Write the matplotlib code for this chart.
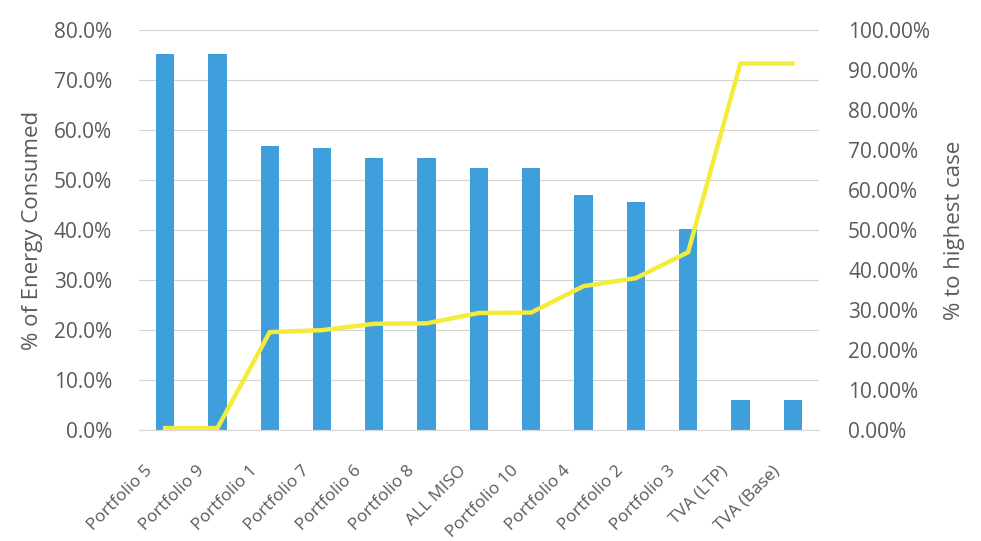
import numpy as np
import matplotlib.pyplot as plt
from matplotlib.ticker import FuncFormatter
from matplotlib.transforms import ScaledTranslation

plt.rcParams['font.family'] = ['Open Sans', 'DejaVu Sans']

cases = ['Portfolio 5', 'Portfolio 9', 'Portfolio 1', 'Portfolio 7', 'Portfolio 6',
         'Portfolio 8', 'ALL MISO', 'Portfolio 10', 'Portfolio 4', 'Portfolio 2',
         'Portfolio 3', 'TVA (LTP)', 'TVA (Base)']
energy_consumed = [75.2, 75.2, 56.8, 56.4, 54.5, 54.5, 52.4, 52.4, 47.0, 45.7, 40.2, 6.0, 6.0]
pct_to_highest = [0.5, 0.5, 24.5, 25.0, 26.6, 26.7, 29.3, 29.4, 36.0, 38.0, 44.5, 91.7, 91.7]

text_color = '#5a5a5a'
bar_color = '#3f9fdc'
line_color = '#f4ec3c'

fig = plt.figure(figsize=(9.81, 5.41), dpi=100)
ax = fig.add_axes([0.1417, 0.205, 0.693, 0.739])
ax2 = ax.twinx()

x = np.arange(len(cases))
ax.bar(x, energy_consumed, width=0.35, color=bar_color, zorder=2)
ax2.plot(x, pct_to_highest, color=line_color, lw=3.2, solid_joinstyle='round', zorder=3)

ax.set_xlim(-0.5, len(cases) - 0.5)
ax.set_ylim(0, 80)
ax.set_yticks(np.arange(0, 81, 10))
ax.yaxis.set_major_formatter(FuncFormatter(lambda v, p: f'{v:.1f}%'))
ax2.set_ylim(0, 100)
ax2.set_yticks(np.arange(0, 101, 10))
ax2.yaxis.set_major_formatter(FuncFormatter(lambda v, p: f'{v:.2f}%'))

ax.grid(axis='y', color='#d4d4d4', lw=0.8, zorder=0)
ax.set_axisbelow(True)

for a in (ax, ax2):
    for side in ('top', 'left', 'right'):
        a.spines[side].set_visible(False)
    a.spines['bottom'].set_color('#d9d9d9')
    a.tick_params(length=0, labelsize=15, colors=text_color)

# rotated category labels, end of each label sits just below its bar
ax.set_xticks(x)
ax.set_xticklabels(cases, rotation=45, ha='right', va='center',
                   rotation_mode='anchor', fontsize=12.5)
ax.tick_params(axis='x', pad=0)
shift = ScaledTranslation(-15 / 100, -38 / 100, fig.dpi_scale_trans)
for lbl in ax.get_xticklabels():
    lbl.set_transform(lbl.get_transform() + shift)

ax.tick_params(axis='y', pad=19.5)
ax2.tick_params(axis='y', pad=21)

ax.set_ylabel('% of Energy Consumed', fontsize=16, color=text_color, labelpad=8)
ax2.set_ylabel('% to highest case', fontsize=16, color=text_color, labelpad=10)

fig.savefig('out.png', dpi=100, facecolor='white')
